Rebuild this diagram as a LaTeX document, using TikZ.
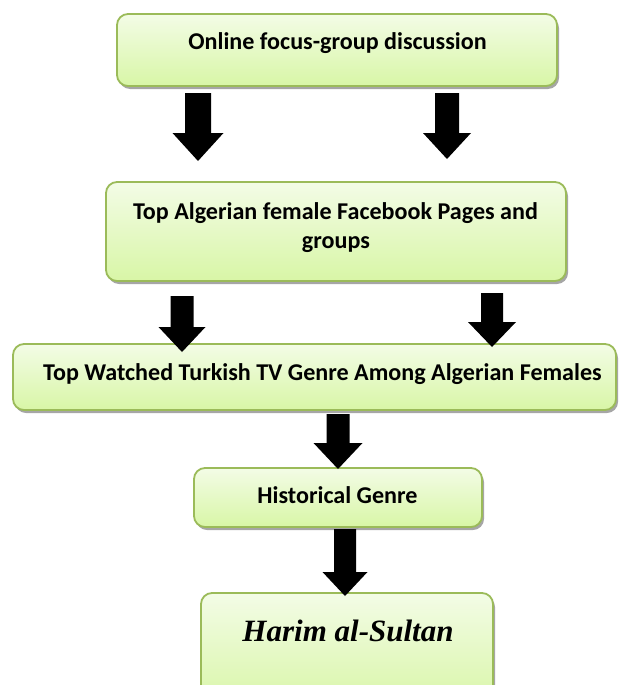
\documentclass[tikz,border=0pt]{standalone}
\usepackage{fontspec}
\setmainfont{Carlito}
\newfontfamily\timesfont{Liberation Serif}
\usetikzlibrary{shadows}
\definecolor{boxborder}{HTML}{9BBB59}
\definecolor{boxtop}{HTML}{F3FCE6}
\definecolor{boxbottom}{HTML}{D8F6A6}
\definecolor{shadowgray}{HTML}{A6A6A6}
\tikzset{
  flowbox/.style={draw=boxborder, line width=1.8pt, rounded corners=11pt,
    top color=boxtop, bottom color=boxbottom,
    drop shadow={shadow xshift=2pt, shadow yshift=-3pt, fill=shadowgray, opacity=1},
    inner sep=0pt, outer sep=0pt},
  boxtext/.style={anchor=base, inner sep=0pt, font=\bfseries\fontsize{24.1}{29}\selectfont},
  blockarrow/.style={fill=black, draw=none}
}
\newcommand{\barrowdraw}[6]{%
  \fill[blockarrow] (#1-#5,#2) -- (#1+#5,#2) -- (#1+#5,#3) -- (#1+#6,#3) -- (#1,#4) -- (#1-#6,#3) -- (#1-#5,#3) -- cycle;}
\begin{document}
\begin{tikzpicture}[x=1pt,y=-1pt]
\clip (0,0) rectangle (619,685);
\useasboundingbox (0,0) rectangle (619,685);
% boxes
\node[flowbox, minimum width=440pt, minimum height=72pt] (b1) at (337,50) {};
\node[flowbox, minimum width=460pt, minimum height=99pt] (b2) at (336,231.5) {};
\node[flowbox, minimum width=603pt, minimum height=66pt] (b3) at (314.5,377) {};
\node[flowbox, minimum width=288pt, minimum height=59pt] (b4) at (338,497.5) {};
\node[flowbox, minimum width=292pt, minimum height=117pt] (b5) at (347,651.5) {};
% texts
\node[boxtext] (t1) at (337.5,50) {Online focus-group discussion};
\node[boxtext] (t2a) at (335.5,219) {Top Algerian female Facebook Pages and};
\node[boxtext] (t2b) at (336,248) {groups};
\node[boxtext] (t3) at (322.5,380) {Top Watched Turkish TV Genre Among Algerian Females};
\node[boxtext] (t4) at (337.5,503) {Historical Genre};
\node[anchor=base, inner sep=0pt, font=\timesfont\bfseries\itshape\fontsize{31}{36}\selectfont] (t5) at (348,641.5) {Harim al-Sultan};
% block arrows
\barrowdraw{198}{93}{133}{161}{13}{25.5}
\barrowdraw{447}{93}{133}{159}{12}{24}
\barrowdraw{182}{296}{327}{352}{11.5}{23.5}
\barrowdraw{492}{293}{322}{347}{11}{24}
\barrowdraw{338}{414}{443}{469}{11.5}{24.5}
\barrowdraw{345}{529}{572}{596}{11}{22.5}
\end{tikzpicture}
\end{document}
